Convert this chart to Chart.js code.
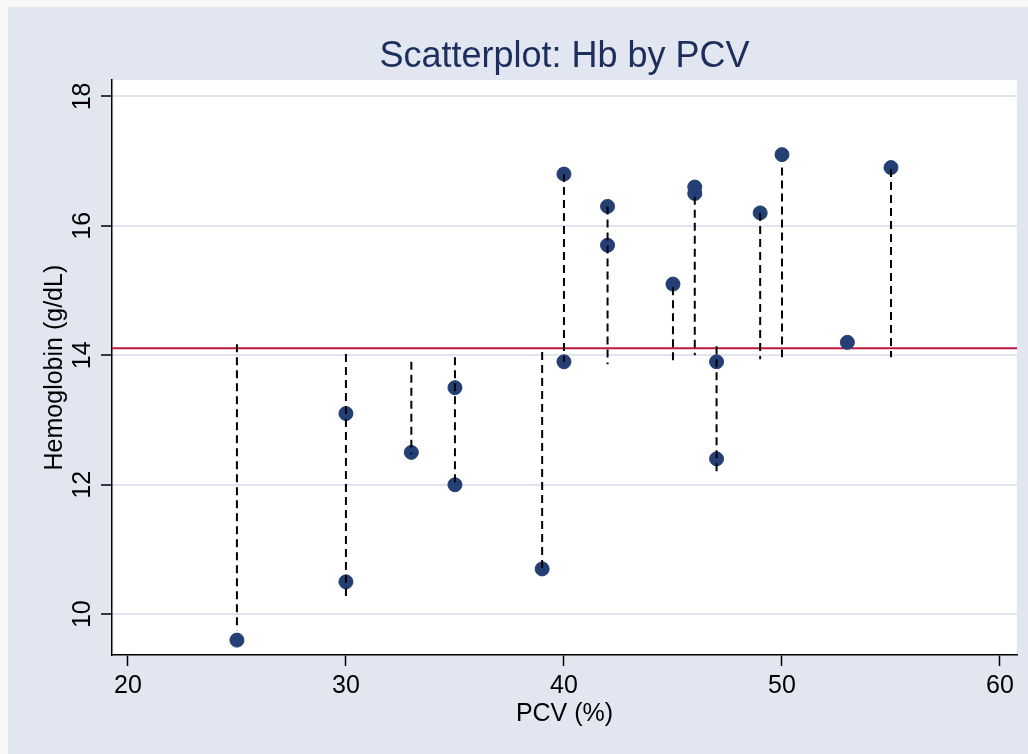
<!DOCTYPE html>
<html>
<head>
<meta charset="utf-8">
<script src="https://cdn.jsdelivr.net/npm/chart.js@4.4.1/dist/chart.umd.min.js"></script>
<style>
  html, body { margin: 0; padding: 0; background: #f7f7f7; }
  #wrap { position: absolute; left: 0; top: 0; width: 1028px; height: 754px; }
</style>
</head>
<body>
<div id="wrap"><canvas id="scatterChart" width="1028" height="754"></canvas></div>
<script>
// Data
const pcv = [25, 30, 30, 33, 35, 35, 39, 40, 40, 42, 42, 45, 46, 46, 47, 47, 49, 50, 53, 55];
const hb  = [9.6, 13.1, 10.5, 12.5, 13.5, 12.0, 10.7, 16.8, 13.9, 16.3, 15.7, 15.1, 16.6, 16.5, 13.9, 12.4, 16.2, 17.1, 14.2, 16.9];

// Dashed spikes toward the mean line
const spikeX      = [25, 30, 33, 35, 39, 40, 42, 45, 46, 47, 49, 50, 55];
const spikeTop    = [14.17, 14.02, 13.9, 13.97, 14.05, 16.8, 16.3, 15.05, 16.45, 14.14, 16.2, 16.9, 16.88];
const spikeBottom = [9.75, 10.26, 12.47, 11.98, 10.7, 13.9, 13.86, 13.9, 14.0, 12.13, 13.94, 13.97, 13.97];

const meanHb = 14.11;
const xTicks = [20, 30, 40, 50, 60];
const yTicks = [10, 12, 14, 16, 18];
const xMin = 19.27, xMax = 60.78;
const yMin = 9.37, yMax = 18.25;

const points = pcv.map((x, i) => ({ x: x, y: hb[i] }));
const spikes = [];
spikeX.forEach((x, i) => {
    spikes.push({ x: x, y: spikeTop[i] });
    spikes.push({ x: x, y: spikeBottom[i] });
    spikes.push({ x: x, y: null });
});
const meanLine = [{ x: xMin, y: meanHb }, { x: xMax, y: meanHb }];

const fontFamily = "'Liberation Sans', Arial, sans-serif";

// background: graph region + white plot region
const bgPlugin = {
    id: 'bg',
    beforeDraw(chart) {
        const c = chart.ctx;
        const a = chart.chartArea;
        c.save();
        c.fillStyle = '#f7f7f7';
        c.fillRect(0, 0, chart.width, chart.height);
        c.fillStyle = '#e1e6f0';
        c.fillRect(8, 7, chart.width - 8, chart.height - 7);
        c.fillStyle = '#ffffff';
        c.fillRect(a.left, a.top, a.right - a.left, a.bottom - a.top);
        c.restore();
    }
};

const ctx = document.getElementById('scatterChart').getContext('2d');
const chart = new Chart(ctx, {
    type: 'scatter',
    data: {
        datasets: [
            {
                label: 'spikes',
                data: spikes,
                showLine: true,
                spanGaps: false,
                borderColor: '#000000',
                borderWidth: 2,
                borderDash: [8, 5],
                pointRadius: 0,
                order: 0
            },
            {
                label: 'Hb',
                data: points,
                backgroundColor: '#233f73',
                borderColor: '#233f73',
                pointRadius: 7,
                pointHoverRadius: 7,
                order: 1
            },
            {
                label: 'mean',
                data: meanLine,
                showLine: true,
                borderColor: '#c0163e',
                borderWidth: 2,
                pointRadius: 0,
                order: 2
            }
        ]
    },
    options: {
        responsive: false,
        animation: false,
        layout: { padding: { left: 0, right: 11, top: 0, bottom: 0 } },
        plugins: {
            legend: { display: false },
            tooltip: { enabled: false },
            title: {
                display: true,
                fullSize: false,
                text: 'Scatterplot: Hb by PCV',
                color: '#1c2e5c',
                font: { family: fontFamily, size: 36, weight: 'normal' },
                padding: { top: 35, bottom: 2 }
            }
        },
        scales: {
            x: {
                type: 'linear',
                min: xMin,
                max: xMax,
                afterBuildTicks: s => { s.ticks = xTicks.map(v => ({ value: v })); },
                afterFit: s => { s.height = 99; },
                grid: { drawOnChartArea: false, tickLength: 11, tickColor: '#000000', tickWidth: 1.5 },
                border: { color: '#000000', width: 1.5 },
                ticks: {
                    color: '#000000',
                    padding: 5,
                    maxRotation: 0,
                    font: { family: fontFamily, size: 25 },
                    callback: v => String(v)
                },
                title: {
                    display: true,
                    text: 'PCV (%)',
                    color: '#000000',
                    font: { family: fontFamily, size: 25 },
                    padding: { top: 0, bottom: 25 }
                }
            },
            y: {
                type: 'linear',
                min: yMin,
                max: yMax,
                afterBuildTicks: s => { s.ticks = yTicks.map(v => ({ value: v })); },
                afterFit: s => { s.width = 112; },
                grid: { color: '#dfe4f0', lineWidth: 2, tickLength: 11, tickColor: '#000000', tickWidth: 1.5 },
                border: { color: '#000000', width: 1.5 },
                ticks: {
                    color: '#000000',
                    padding: 4,
                    minRotation: 90,
                    maxRotation: 90,
                    crossAlign: 'center',
                    font: { family: fontFamily, size: 25 },
                    callback: v => String(v)
                },
                title: {
                    display: true,
                    text: 'Hemoglobin (g/dL)',
                    color: '#000000',
                    font: { family: fontFamily, size: 25 },
                    padding: { top: 40, bottom: 0 }
                }
            }
        }
    },
    plugins: [bgPlugin]
});
</script>
</body>
</html>
